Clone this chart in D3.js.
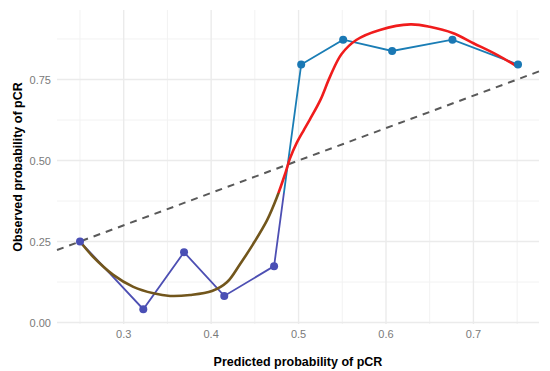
<!DOCTYPE html>
<html>
<head>
<meta charset="utf-8">
<script src="https://d3js.org/d3.v7.min.js"></script>
<style>
    body { margin: 0; background: #ffffff; }
    svg { display: block; }
</style>
</head>
<body>
<div id="div1"></div>
<script>
//Observed points (binned calibration).
var predicted = [0.25, 0.3224, 0.369, 0.415, 0.472, 0.503, 0.551, 0.607, 0.676, 0.751];
var observed = [0.25, 0.041, 0.217, 0.082, 0.174, 0.796, 0.873, 0.838, 0.873, 0.796];

//Smoothed calibration curve.
var smoothX = [0.25, 0.265, 0.288, 0.311, 0.334, 0.353, 0.376, 0.401, 0.418, 0.433, 0.448, 0.464, 0.475, 0.485,
    0.49, 0.498, 0.506, 0.513, 0.525, 0.536, 0.549, 0.566, 0.593, 0.628, 0.65, 0.677, 0.70, 0.727, 0.75];
var smoothY = [0.25, 0.203, 0.147, 0.110, 0.090, 0.082, 0.085, 0.097, 0.124, 0.180, 0.242, 0.316, 0.385, 0.462,
    0.505, 0.555, 0.594, 0.627, 0.687, 0.759, 0.828, 0.872, 0.903, 0.920, 0.913, 0.893, 0.862, 0.826, 0.79];

//Tick labels.
var xTicks = [0.3, 0.4, 0.5, 0.6, 0.7];
var xMinor = [0.25, 0.35, 0.45, 0.55, 0.65, 0.75];
var yTicks = [0, 0.25, 0.5, 0.75];
var yMinor = [0.125, 0.375, 0.625, 0.875];

window.onload = function () {

    var width = 550;
    var height = 371;

    var svg = d3.select("#div1").append("svg").attr("width", width).attr("height", height);

    //Scales (panel 57..539 by 10..324).
    var x = d3.scaleLinear().domain([0.2237, 0.775]).range([57, 539]);
    var y = d3.scaleLinear().domain([-0.0046, 0.9645]).range([324, 10]);

    //The value where the colours of the lines change.
    var colourSplit = 0.40;

    var font = "Liberation Sans, Arial, sans-serif";

    //Gridlines.
    var grid = svg.append("g");
    grid.selectAll(".vminor").data(xMinor).enter().append("line")
        .attr("x1", function (d) { return x(d); }).attr("x2", function (d) { return x(d); })
        .attr("y1", y.range()[0]).attr("y2", y.range()[1])
        .attr("stroke", "#f2f2f2").attr("stroke-width", 1);
    grid.selectAll(".hminor").data(yMinor).enter().append("line")
        .attr("y1", function (d) { return y(d); }).attr("y2", function (d) { return y(d); })
        .attr("x1", x.range()[0]).attr("x2", x.range()[1])
        .attr("stroke", "#f2f2f2").attr("stroke-width", 1);
    grid.selectAll(".vmajor").data(xTicks).enter().append("line")
        .attr("x1", function (d) { return x(d); }).attr("x2", function (d) { return x(d); })
        .attr("y1", y.range()[0]).attr("y2", y.range()[1])
        .attr("stroke", "#ebebeb").attr("stroke-width", 1.4);
    grid.selectAll(".hmajor").data(yTicks).enter().append("line")
        .attr("y1", function (d) { return y(d); }).attr("y2", function (d) { return y(d); })
        .attr("x1", x.range()[0]).attr("x2", x.range()[1])
        .attr("stroke", "#ebebeb").attr("stroke-width", 1.4);

    //Gradients that switch colour at colourSplit.
    var defs = svg.append("defs");
    function splitGradient(id, lowColour, highColour) {
        var g = defs.append("linearGradient").attr("id", id).attr("gradientUnits", "userSpaceOnUse")
            .attr("x1", 0).attr("x2", 0)
            .attr("y1", y(colourSplit) + 0.5).attr("y2", y(colourSplit) - 0.5);
        g.append("stop").attr("offset", 0).attr("stop-color", lowColour);
        g.append("stop").attr("offset", 1).attr("stop-color", highColour);
    }
    splitGradient("blueSplit", "#4d4fb3", "#1a7db5");
    splitGradient("redSplit", "#72561c", "#f01c1c");

    //Diagonal reference line.
    svg.append("line")
        .attr("x1", x(x.domain()[0])).attr("y1", y(x.domain()[0]))
        .attr("x2", x(x.domain()[1])).attr("y2", y(x.domain()[1]))
        .attr("stroke", "#595959").attr("stroke-width", 2).attr("stroke-dasharray", "7,6");

    //Observed line and points.
    var pts = predicted.map(function (d, i) { return [d, observed[i]]; });
    var line = d3.line().x(function (d) { return x(d[0]); }).y(function (d) { return y(d[1]); });

    svg.append("path").datum(pts).attr("d", line)
        .attr("fill", "none").attr("stroke", "url(#blueSplit)").attr("stroke-width", 1.8);

    //Smoothed curve.
    var smooth = smoothX.map(function (d, i) { return [d, smoothY[i]]; });
    var curve = d3.line().curve(d3.curveCatmullRom)
        .x(function (d) { return x(d[0]); }).y(function (d) { return y(d[1]); });

    svg.append("path").datum(smooth).attr("d", curve)
        .attr("fill", "none").attr("stroke", "url(#redSplit)").attr("stroke-width", 2.6)
        .attr("stroke-linecap", "round");

    svg.selectAll("circle").data(pts).enter().append("circle")
        .attr("cx", function (d) { return x(d[0]); })
        .attr("cy", function (d) { return y(d[1]); })
        .attr("r", 4)
        .attr("fill", function (d) { return d[1] < colourSplit ? "#4a4fb5" : "#1a78b4"; });

    //Tick labels.
    svg.selectAll(".xlab").data(xTicks).enter().append("text")
        .text(function (d) { return d3.format(".1f")(d); })
        .attr("x", function (d) { return x(d); }).attr("y", 338)
        .attr("text-anchor", "middle").attr("font-family", font).attr("font-size", 11).attr("fill", "#7a7a7a");

    svg.selectAll(".ylab").data(yTicks).enter().append("text")
        .text(function (d) { return d3.format(".2f")(d); })
        .attr("x", 51).attr("y", function (d) { return y(d) + 4; })
        .attr("text-anchor", "end").attr("font-family", font).attr("font-size", 11).attr("fill", "#7a7a7a");

    //Axis titles.
    svg.append("text").text("Predicted probability of pCR")
        .attr("x", (x.range()[0] + x.range()[1]) / 2).attr("y", 366)
        .attr("text-anchor", "middle").attr("font-family", font).attr("font-size", 12.5)
        .attr("font-weight", "bold").attr("fill", "#000");

    svg.append("text").text("Observed probability of pCR")
        .attr("transform", "translate(22," + (y.range()[0] + y.range()[1]) / 2 + ") rotate(-90)")
        .attr("text-anchor", "middle").attr("font-family", font).attr("font-size", 12.5)
        .attr("font-weight", "bold").attr("fill", "#000");
}
</script>
</body>
</html>
